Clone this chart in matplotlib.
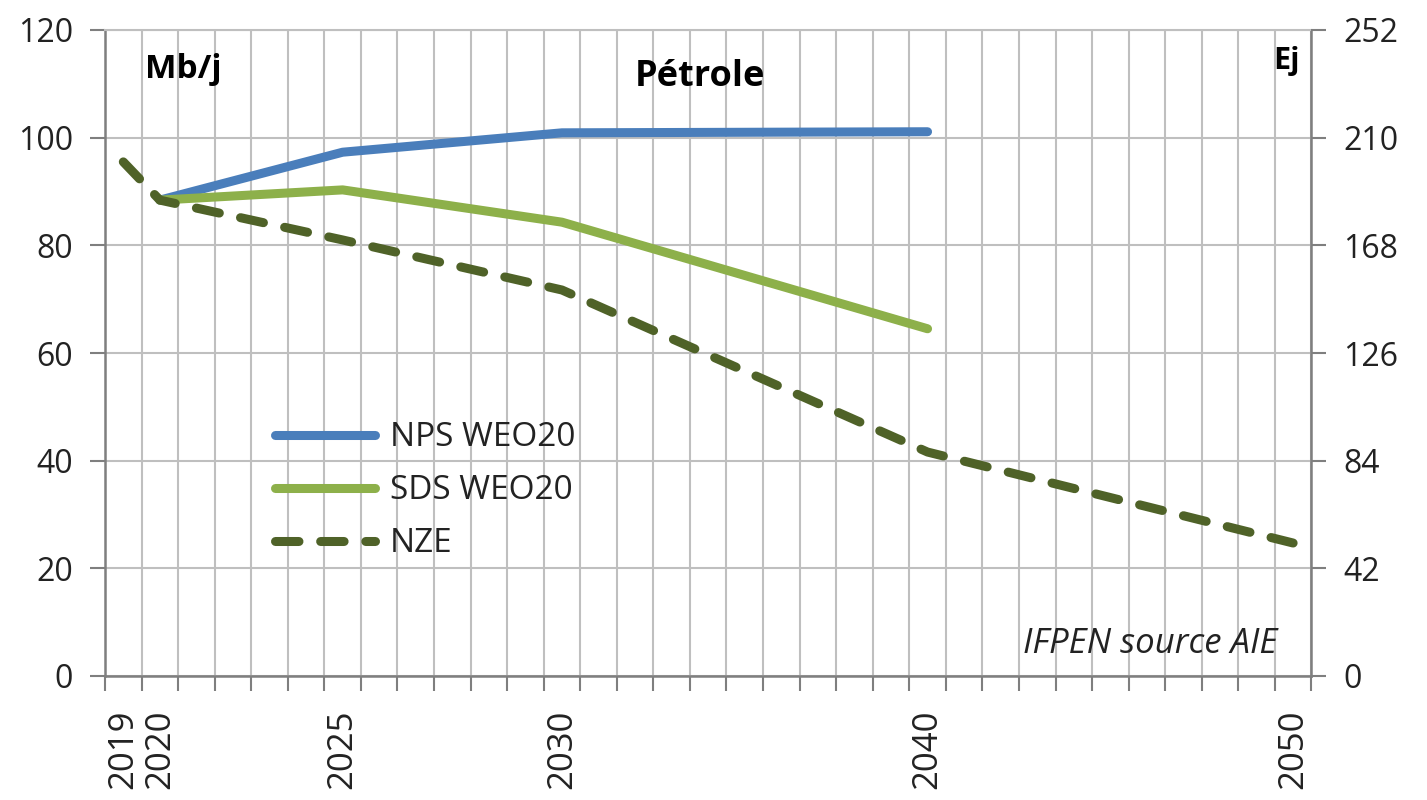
import matplotlib.pyplot as plt
import numpy as np

# category axis (Excel style): only some years are labelled
categories = ['2019', '2020', '', '', '', '', '2025', '', '', '', '', '',
              '2030', '', '', '', '', '', '', '', '', '', '2040',
              '', '', '', '', '', '', '', '', '', '2050']

# values in Mb/j at the labelled categories
nps = {'2020': 88.4, '2025': 97.3, '2030': 100.9, '2040': 101.1}
sds = {'2020': 88.4, '2025': 90.3, '2030': 84.3, '2040': 64.5}
nze = {'2019': 95.5, '2020': 88.4, '2025': 81.0, '2030': 71.7,
       '2040': 41.6, '2050': 24.7}

left_ticks = [0, 20, 40, 60, 80, 100, 120]
right_ticks = [0, 42, 84, 126, 168, 210, 252]

font = 'Open Sans'
plt.rcParams['font.family'] = [font, 'DejaVu Sans']

fig = plt.figure(figsize=(14.27, 8), dpi=100)
ax = fig.add_axes([0.0736, 0.155, 0.8454, 0.8075])


def series_xy(d):
    xs = [categories.index(k) for k in d]
    return np.array(xs), np.array(list(d.values()))


x, y = series_xy(nps)
ax.plot(x, y, color='#4A7EBB', lw=6.5, solid_capstyle='round',
        solid_joinstyle='round', label='NPS WEO20', zorder=4)
x, y = series_xy(sds)
ax.plot(x, y, color='#8DB04A', lw=6.5, solid_capstyle='round',
        solid_joinstyle='round', label='SDS WEO20', zorder=4)
x, y = series_xy(nze)
ln, = ax.plot(x, y, color='#4F6228', lw=6.5, dash_capstyle='round',
              dash_joinstyle='round', label='NZE', zorder=4)
ln.set_dashes((2.6, 2.4))

n = len(categories)
ax.set_xlim(-0.5, n - 0.5)
ax.set_ylim(0, 120)
ax.set_yticks(left_ticks)
ax.set_xticks(np.arange(n))
ax.set_xticklabels(categories, rotation=90, fontsize=25, color='#222222')
ax.set_xticks(np.arange(-0.5, n), minor=True)
ax.tick_params(axis='x', which='major', length=0, pad=24)
ax.tick_params(axis='x', which='minor', length=11, width=1.5,
               color='#7f7f7f', direction='out')
ax.tick_params(axis='y', length=11, width=1.5, color='#7f7f7f',
               labelsize=23, labelcolor='#222222', pad=12)
ax.grid(True, which='minor', axis='x', color='#bfbfbf', lw=1.5)
ax.grid(True, which='major', axis='y', color='#bfbfbf', lw=1.5)
ax.grid(False, which='major', axis='x')
ax.set_axisbelow(True)
ax.spines['top'].set_color('#bfbfbf')
ax.spines['top'].set_linewidth(1.5)
for s in ['left', 'right', 'bottom']:
    ax.spines[s].set_color('#7f7f7f')
    ax.spines[s].set_linewidth(1.8)

ax2 = ax.twinx()
ax2.set_ylim(0, 252)
ax2.set_yticks(right_ticks)
ax2.tick_params(axis='y', length=11, width=1.5, color='#7f7f7f',
                labelsize=23, labelcolor='#222222', pad=12)
for s in ax2.spines.values():
    s.set_visible(False)

ax.text(0.033, 0.965, 'Mb/j', transform=ax.transAxes, fontsize=24,
        fontweight='bold', va='top', ha='left')
ax.text(0.4935, 0.955, 'Pétrole', transform=ax.transAxes, fontsize=26,
        fontweight='bold', va='top', ha='center')
ax.text(0.99, 0.975, 'Ej', transform=ax.transAxes, fontsize=22,
        fontweight='bold', va='top', ha='right')
ax.text(0.972, 0.05, 'IFPEN source AIE', transform=ax.transAxes,
        fontsize=25, style='italic', va='center', ha='right', color='#222222')

leg = ax.legend(loc='upper left', bbox_to_anchor=(0.13, 0.415), frameon=False,
                fontsize=24, handlelength=3.0, handletextpad=0.45,
                labelspacing=0.6, borderaxespad=0)
for t in leg.get_texts():
    t.set_color('#222222')

fig.savefig('out.png', dpi=100)
